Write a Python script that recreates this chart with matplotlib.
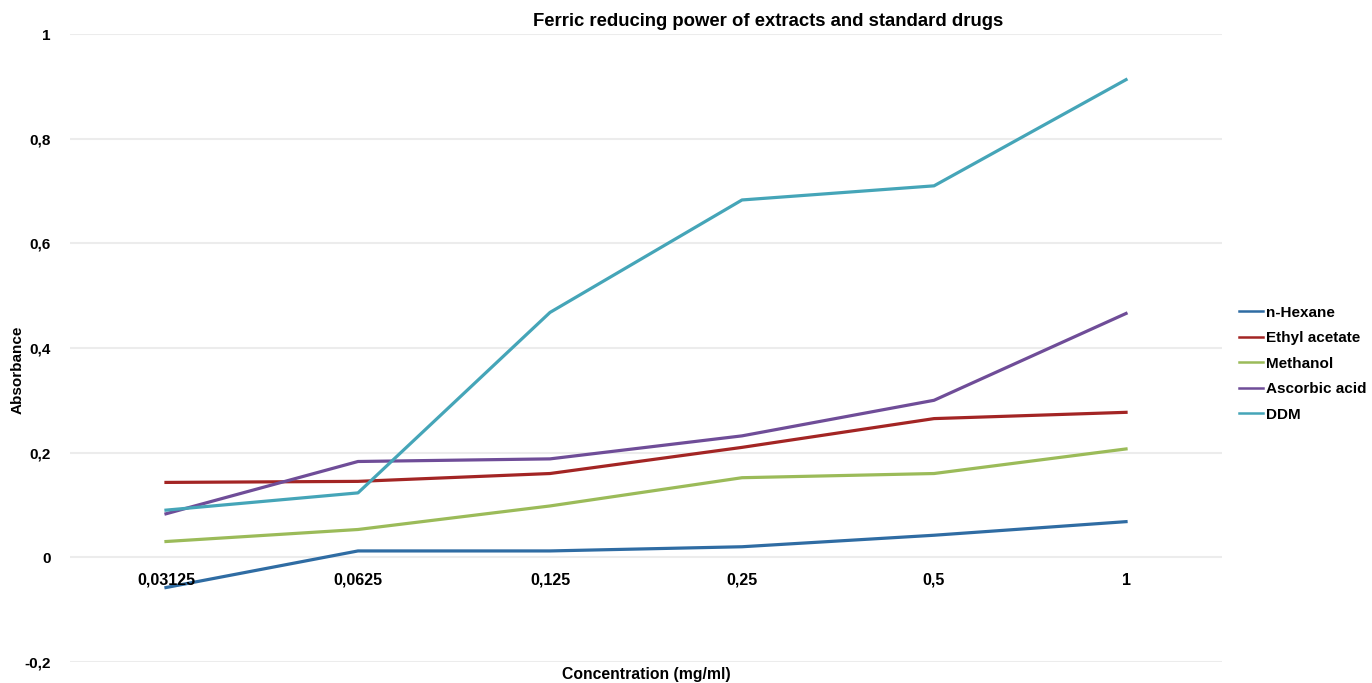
import matplotlib
matplotlib.use("Agg")
import matplotlib.pyplot as plt
import numpy as np

concentrations = ["0,03125", "0,0625", "0,125", "0,25", "0,5", "1"]
n_hexane = [-0.058, 0.012, 0.012, 0.020, 0.042, 0.068]
ethyl_acetate = [0.143, 0.145, 0.160, 0.210, 0.265, 0.277]
methanol = [0.030, 0.053, 0.098, 0.152, 0.160, 0.207]
ascorbic_acid = [0.083, 0.183, 0.188, 0.232, 0.300, 0.466]
ddm = [0.090, 0.123, 0.468, 0.683, 0.710, 0.913]

series = [
    ("n-Hexane", n_hexane, "#2f6ca3"),
    ("Ethyl acetate", ethyl_acetate, "#a32524"),
    ("Methanol", methanol, "#9bbb59"),
    ("Ascorbic acid", ascorbic_acid, "#6f4d98"),
    ("DDM", ddm, "#45a5b8"),
]

plt.rcParams["font.family"] = ["Liberation Sans", "DejaVu Sans"]
plt.rcParams["font.weight"] = "bold"

fig = plt.figure(figsize=(13.72, 6.83), dpi=100)
ax = fig.add_axes([0.051, 0.031, 0.8397, 0.919])

x = np.arange(len(concentrations))
for name, vals, col in series:
    ax.plot(x, vals, color=col, lw=2.3, label=name)

ax.set_xlim(-0.5, len(concentrations) - 0.5)
ax.set_ylim(-0.2, 1.0)
yt = np.arange(-0.2, 1.01, 0.2)
ax.set_yticks(yt)
ax.set_yticklabels(["-0,2", "0", "0,2", "0,4", "0,6", "0,8", "1"], fontsize=11, fontweight="bold")
ax.yaxis.grid(True, color="#ececec", lw=1.5)
ax.set_axisbelow(True)
ax.tick_params(axis="y", length=0, pad=14)
ax.set_xticks([])
for s in ax.spines.values():
    s.set_visible(False)

# category labels sit just under the zero line
for xi, lab in zip(x, concentrations):
    ax.text(xi, -0.03, lab, ha="center", va="top", fontsize=11.5, fontweight="bold")

fig.text(0.56, 0.968, "Ferric reducing power of extracts and standard drugs",
         ha="center", va="center", fontsize=13.3, fontweight="bold")
fig.text(0.471, 0.012, "Concentration (mg/ml)", ha="center", va="center",
         fontsize=11.3, fontweight="bold")
fig.text(0.013, 0.458, "Absorbance", ha="center", va="center", rotation=90,
         fontsize=11, fontweight="bold")

leg = ax.legend(loc="center left", bbox_to_anchor=(1.0, 0.475), frameon=False,
                fontsize=11, handlelength=1.6, handletextpad=0.15,
                labelspacing=0.75, borderaxespad=0.7)
for t in leg.get_texts():
    t.set_fontweight("bold")
for h in leg.get_lines():
    h.set_linewidth(1.8)

fig.savefig("out.png", dpi=100)
